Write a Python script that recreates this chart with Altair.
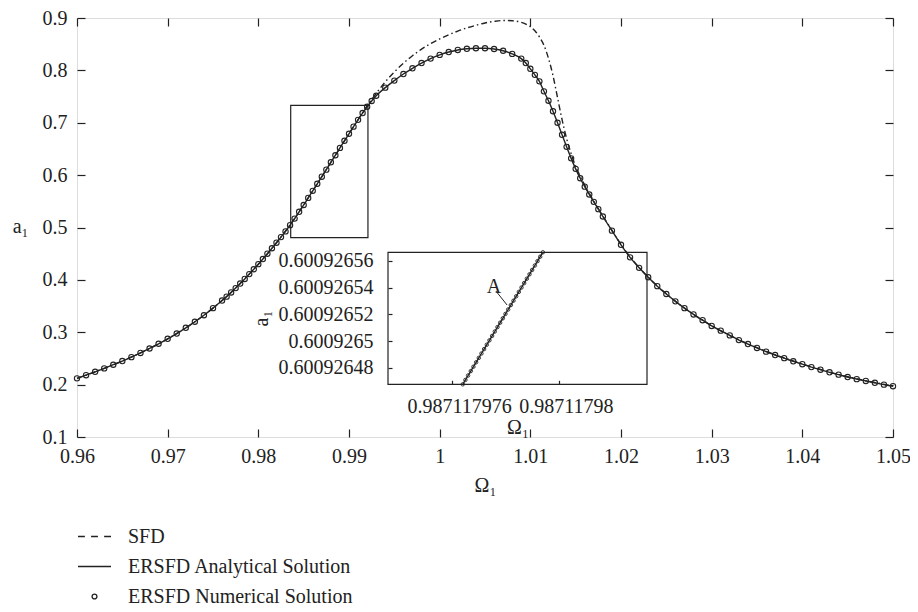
import altair as alt
import pandas as pd

# ---------------- data ----------------
ersfd_x = [0.960, 0.961, 0.962, 0.963, 0.964, 0.965, 0.966, 0.967, 0.968, 0.969,
           0.970, 0.971, 0.972, 0.973, 0.974, 0.975, 0.976, 0.9765, 0.977, 0.9775,
           0.978, 0.9785, 0.979, 0.9795, 0.980, 0.9805, 0.981, 0.9815, 0.982, 0.9825,
           0.983, 0.9835, 0.984, 0.9845, 0.985, 0.9855, 0.986, 0.9865, 0.987, 0.9875,
           0.988, 0.9885, 0.989, 0.9895, 0.990, 0.9905, 0.991, 0.9915, 0.992, 0.9925,
           0.993, 0.994, 0.995, 0.996, 0.997, 0.998, 0.999, 1.000, 1.001, 1.002,
           1.003, 1.004, 1.005, 1.006, 1.007, 1.008, 1.009, 1.0095, 1.010, 1.0105,
           1.011, 1.0115, 1.012, 1.0125, 1.013, 1.0135, 1.014, 1.0145, 1.015, 1.0155,
           1.016, 1.0165, 1.017, 1.0175, 1.018, 1.019, 1.020, 1.021, 1.022, 1.023,
           1.024, 1.025, 1.026, 1.027, 1.028, 1.029, 1.030, 1.031, 1.032, 1.033,
           1.034, 1.035, 1.036, 1.037, 1.038, 1.039, 1.040, 1.041, 1.042, 1.043,
           1.044, 1.045, 1.046, 1.047, 1.048, 1.049, 1.050]
ersfd_y = [0.2120, 0.2180, 0.2245, 0.2310, 0.2380, 0.2450, 0.2525, 0.2605, 0.2690, 0.2780,
           0.2875, 0.2975, 0.3085, 0.3200, 0.3325, 0.3460, 0.3605, 0.3680, 0.3760, 0.3843,
           0.3930, 0.4018, 0.4110, 0.4203, 0.4300, 0.4398, 0.4500, 0.4604, 0.4710, 0.4817,
           0.4925, 0.5045, 0.5170, 0.5300, 0.5430, 0.5565, 0.5700, 0.5835, 0.5970, 0.6105,
           0.6245, 0.6380, 0.6520, 0.6655, 0.6790, 0.6925, 0.7055, 0.7185, 0.7305, 0.7415,
           0.7515, 0.7670, 0.7805, 0.7930, 0.8040, 0.8140, 0.8225, 0.8295, 0.8350, 0.8390,
           0.8412, 0.8422, 0.8422, 0.8408, 0.8375, 0.8315, 0.8225, 0.8140, 0.8030, 0.7915,
           0.7790, 0.7600, 0.7420, 0.7220, 0.7000, 0.6770, 0.6540, 0.6320, 0.6120, 0.5940,
           0.5780, 0.5630, 0.5490, 0.5350, 0.5210, 0.4940, 0.4670, 0.4430, 0.4230, 0.4050,
           0.3880, 0.3730, 0.3590, 0.3460, 0.3340, 0.3230, 0.3120, 0.3030, 0.2940, 0.2850,
           0.2775, 0.2700, 0.2630, 0.2565, 0.2505, 0.2445, 0.2390, 0.2335, 0.2285, 0.2235,
           0.2190, 0.2145, 0.2105, 0.2070, 0.2035, 0.2000, 0.1970]

sfd_x = [0.960, 0.965, 0.970, 0.975, 0.978, 0.980, 0.982, 0.984, 0.986, 0.988,
         0.990, 0.991, 0.992, 0.993, 0.994, 0.995, 0.996, 0.997, 0.998, 0.999,
         1.000, 1.001, 1.002, 1.003, 1.004, 1.005, 1.006, 1.007, 1.008, 1.009,
         1.0095, 1.010, 1.0105, 1.011, 1.0115, 1.012, 1.0125, 1.013, 1.0135, 1.014,
         1.0145, 1.015, 1.0155, 1.016, 1.0165, 1.017, 1.018, 1.019, 1.020, 1.022,
         1.025, 1.030, 1.035, 1.040, 1.045, 1.050]
sfd_y = [0.2120, 0.2450, 0.2875, 0.3460, 0.3930, 0.4300, 0.4710, 0.5170, 0.5700, 0.6245,
         0.6790, 0.7060, 0.7320, 0.7560, 0.7780, 0.7970, 0.8135, 0.8280, 0.8405, 0.8510,
         0.8600, 0.8680, 0.8750, 0.8810, 0.8860, 0.8905, 0.8935, 0.8952, 0.8948, 0.8918,
         0.8885, 0.8835, 0.8755, 0.8640, 0.8480, 0.8230, 0.7900, 0.7480, 0.7060, 0.6700,
         0.6410, 0.6170, 0.5980, 0.5810, 0.5650, 0.5500, 0.5220, 0.4945, 0.4675, 0.4235,
         0.3735, 0.3125, 0.2705, 0.2395, 0.2150, 0.1975]

x_domain = [0.96, 1.05]
y_domain = [0.1, 0.9]
x_ticks = [0.96, 0.97, 0.98, 0.99, 1.0, 1.01, 1.02, 1.03, 1.04, 1.05]
y_ticks = [0.1, 0.2, 0.3, 0.4, 0.5, 0.6, 0.7, 0.8, 0.9]
zoom_box_x = [0.98357, 0.99209]
zoom_box_y = [0.4808, 0.7331]

# inset (magnified view)
inset_x = [0.98711797640, 0.98711797650, 0.98711797660, 0.98711797670, 0.98711797680,
           0.98711797690, 0.98711797700, 0.98711797710, 0.98711797720, 0.98711797730,
           0.98711797740, 0.98711797750, 0.98711797760, 0.98711797770, 0.98711797780,
           0.98711797790, 0.98711797800, 0.98711797810, 0.98711797820, 0.98711797830,
           0.98711797840, 0.98711797850, 0.98711797860, 0.98711797870, 0.98711797880,
           0.98711797890, 0.98711797900, 0.98711797910, 0.98711797920, 0.98711797930,
           0.98711797940]
inset_y = [0.60092646780, 0.60092647109, 0.60092647438, 0.60092647767, 0.60092648096,
           0.60092648425, 0.60092648754, 0.60092649083, 0.60092649412, 0.60092649741,
           0.60092650070, 0.60092650399, 0.60092650728, 0.60092651057, 0.60092651386,
           0.60092651715, 0.60092652044, 0.60092652373, 0.60092652702, 0.60092653031,
           0.60092653360, 0.60092653689, 0.60092654018, 0.60092654347, 0.60092654676,
           0.60092655005, 0.60092655334, 0.60092655663, 0.60092655992, 0.60092656321,
           0.60092656650]
inset_x_domain = [0.9871179736, 0.9871179833]
inset_y_domain = [0.6009264678, 0.6009265665]
inset_x_ticks = [0.987117976, 0.98711798]
inset_y_ticks = [0.60092648, 0.6009265, 0.60092652, 0.60092654, 0.60092656]

annot_label = ["A"]
annot_text_x = [0.98711797757]
annot_text_y = [0.6009265358]
annot_line_x = [0.98711797764, 0.98711797806]
annot_line_y = [0.60092653756, 0.60092652709]

legend_names = ["SFD", "ERSFD Analytical Solution", "ERSFD Numerical Solution"]

# ---------------- layout / style ----------------
W, H = 816, 419
INSET_X_RANGE = [311, 570]
INSET_Y_RANGE = [366.3, 234.3]
FONT = "Liberation Serif"
FS = 20
INK = "#222222"

legend_paths = [
    "M-1.15,0L-0.67,0M-0.24,0L0.24,0M0.67,0L1.15,0",
    "M-1.15,0L1.15,0",
    "M0.17,0A0.17,0.17,0,1,1,-0.17,0A0.17,0.17,0,1,1,0.17,0Z",
]

ersfd_df = pd.DataFrame({"x": ersfd_x, "y": ersfd_y})
sfd_df = pd.DataFrame({"x": sfd_x, "y": sfd_y})
zoom_df = pd.DataFrame({"x0": [zoom_box_x[0]], "x1": [zoom_box_x[1]],
                        "y0": [zoom_box_y[0]], "y1": [zoom_box_y[1]]})
legend_df = pd.DataFrame({"name": legend_names, "x": [None] * 3, "y": [None] * 3})
inset_df = pd.DataFrame({"x": inset_x, "y": inset_y})
inset_frame_df = pd.DataFrame({"x0": [inset_x_domain[0]], "x1": [inset_x_domain[1]],
                               "y0": [inset_y_domain[0]], "y1": [inset_y_domain[1]]})
annot_df = pd.DataFrame({"x": annot_text_x, "y": annot_text_y, "t": annot_label})
annot_line_df = pd.DataFrame({"x0": [annot_line_x[0]], "x1": [annot_line_x[1]],
                              "y0": [annot_line_y[0]], "y1": [annot_line_y[1]]})


def ax(**kw):
    base = dict(grid=False, labelFont=FONT, labelFontSize=FS, labelColor=INK,
                titleFont=FONT, titleFontSize=FS, titleColor=INK, titleFontWeight="normal",
                tickColor=INK, tickWidth=1.2, domain=False, labelFlush=False,
                labelOverlap=False)
    base.update(kw)
    return alt.Axis(**base)


def tick_axis(orient, offset, values, size):
    return ax(orient=orient, offset=offset, values=values, labels=False, ticks=True,
              tickSize=size, title=None)


xs = alt.Scale(domain=x_domain, nice=False, zero=False)
ys = alt.Scale(domain=y_domain, nice=False, zero=False)

# main x/y label axes
x_lab = ax(orient="bottom", values=x_ticks, format="~g", ticks=False, tickSize=0,
           labelPadding=25, labelBaseline="alphabetic", title="Ω₁", titleY=54,
           titleBaseline="alphabetic")
y_lab = ax(orient="left", values=y_ticks, format="~g", ticks=False, tickSize=0,
           labelPadding=10, title="a₁", titleAngle=0, titleAlign="right",
           titleBaseline="alphabetic", titleX=-49, titleY=214)

sfd = alt.Chart(sfd_df).mark_line(color=INK, strokeWidth=1.4, strokeDash=[6, 3, 1.5, 3],
                                  interpolate="monotone").encode(
    x=alt.X("x:Q", scale=xs, axis=x_lab),
    y=alt.Y("y:Q", scale=ys, axis=y_lab),
)
ersfd_line = alt.Chart(ersfd_df).mark_line(color=INK, strokeWidth=1.4,
                                           interpolate="monotone").encode(
    x=alt.X("x:Q", scale=xs, axis=tick_axis("top", -H, x_ticks, 8)),
    y=alt.Y("y:Q", scale=ys, axis=tick_axis("right", -W, y_ticks, 8)),
)
ersfd_pts = alt.Chart(ersfd_df).mark_point(filled=False, color=INK, size=28, opacity=1,
                                           strokeWidth=1.1).encode(
    x=alt.X("x:Q", scale=xs, axis=tick_axis("bottom", -H, x_ticks, 8)),
    y=alt.Y("y:Q", scale=ys, axis=tick_axis("left", -W, y_ticks, 8)),
)
zoom_box = alt.Chart(zoom_df).mark_rect(fillOpacity=0, stroke=INK, strokeWidth=1.2).encode(
    x=alt.X("x0:Q", scale=xs, axis=None), x2="x1:Q",
    y=alt.Y("y0:Q", scale=ys, axis=None), y2="y1:Q",
)
legend_layer = alt.Chart(legend_df).mark_point(filled=False, color=INK, opacity=1).encode(
    x=alt.X("x:Q", scale=xs, axis=None),
    y=alt.Y("y:Q", scale=ys, axis=None),
    shape=alt.Shape("name:N", scale=alt.Scale(domain=legend_names, range=legend_paths),
                    legend=alt.Legend(orient="none", legendX=2, legendY=503, title=None,
                                      labelFont=FONT, labelFontSize=FS, labelColor=INK,
                                      labelLimit=500, symbolOpacity=1,
                                      symbolSize=824, symbolStrokeWidth=1.3,
                                      symbolStrokeColor=INK, labelOffset=18,
                                      rowPadding=4, padding=0)),
)

main = alt.layer(sfd, ersfd_line, ersfd_pts, zoom_box, legend_layer).resolve_axis(
    x="independent", y="independent")

# inset
ixs = alt.Scale(domain=inset_x_domain, range=INSET_X_RANGE, nice=False, zero=False)
iys = alt.Scale(domain=inset_y_domain, range=INSET_Y_RANGE, nice=False, zero=False)

ix_lab = ax(orient="bottom", offset=-(H - INSET_Y_RANGE[0]), values=inset_x_ticks,
            format=".9~f", ticks=False, tickSize=0, labelPadding=28,
            labelBaseline="alphabetic", labelOffset=7, title="Ω₁", titleY=49,
            titleBaseline="alphabetic")
iy_lab = ax(orient="left", offset=-INSET_X_RANGE[0], values=inset_y_ticks,
            format=".8~f", ticks=False, tickSize=0, labelPadding=15, title="a₁",
            titleAngle=270, titleAlign="center", titleBaseline="alphabetic",
            titleX=-121, titleY=300)

inset_line = alt.Chart(inset_df).mark_line(color=INK, strokeWidth=1.4).encode(
    x=alt.X("x:Q", scale=ixs, axis=ix_lab),
    y=alt.Y("y:Q", scale=iys, axis=iy_lab),
)
inset_pts = alt.Chart(inset_df).mark_point(filled=False, color=INK, size=12, opacity=1,
                                           strokeWidth=0.9).encode(
    x=alt.X("x:Q", scale=ixs,
            axis=tick_axis("top", -INSET_Y_RANGE[0], inset_x_ticks, 4)),
    y=alt.Y("y:Q", scale=iys,
            axis=tick_axis("right", -(W - INSET_X_RANGE[0]), inset_y_ticks, 4)),
)
inset_frame = alt.Chart(inset_frame_df).mark_rect(fillOpacity=0, stroke=INK,
                                                  strokeWidth=1.2).encode(
    x=alt.X("x0:Q", scale=ixs, axis=None), x2="x1:Q",
    y=alt.Y("y0:Q", scale=iys, axis=None), y2="y1:Q",
)
annot_text = alt.Chart(annot_df).mark_text(font=FONT, fontSize=FS, color=INK,
                                           baseline="alphabetic", align="center").encode(
    x=alt.X("x:Q", scale=ixs, axis=None),
    y=alt.Y("y:Q", scale=iys, axis=None),
    text="t:N",
)
annot_line = alt.Chart(annot_line_df).mark_rule(color=INK, strokeWidth=1).encode(
    x=alt.X("x0:Q", scale=ixs, axis=None), x2="x1:Q",
    y=alt.Y("y0:Q", scale=iys, axis=None), y2="y1:Q",
)

inset = alt.layer(inset_line, inset_pts, inset_frame, annot_text, annot_line).resolve_axis(
    x="independent", y="independent")

chart = alt.layer(main, inset).resolve_scale(x="independent", y="independent").properties(
    width=W, height=H,
    autosize=alt.AutoSizeParams(type="none"),
    padding={"left": 69, "top": 10, "right": 17, "bottom": 170},
).configure_view(stroke=INK, strokeWidth=1.3).configure(background="white")

chart.save("out.html", embed_options={"renderer": "svg", "actions": False})
